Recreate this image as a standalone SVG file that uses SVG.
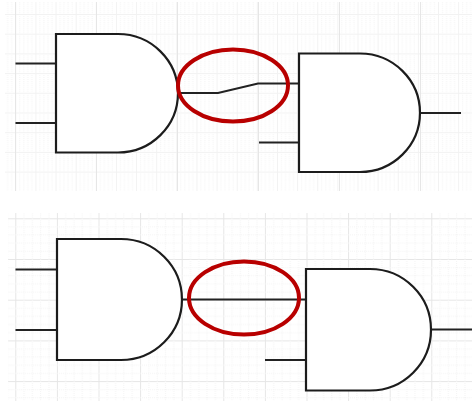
<svg xmlns="http://www.w3.org/2000/svg" width="472" height="401" viewBox="0 0 472 401">
<style>
.maj{stroke:#e6e6e6;stroke-width:1;fill:none}
.min{stroke:#f2f2f2;stroke-width:1;fill:none}
.dot{stroke:#f3f3f3;stroke-width:1;stroke-dasharray:1 1;fill:none}
.gate{fill:#fff;stroke:#1c1c1c;stroke-width:2.2}
.wire{fill:none;stroke:#222;stroke-width:2.2}
.mark{fill:none;stroke:#b80000;stroke-width:4}
</style>
<defs>
<pattern id="pa" x="15.3" y="14" width="20.13" height="19.7" patternUnits="userSpaceOnUse">
<path class="min" d="M0.5 0V19.7M0 0.5H20.13"/>
<path class="dot" d="M4.5 0V19.7M8.5 0V19.7M12.5 0V19.7M16.5 0V19.7"/>
</pattern>
<pattern id="pb" x="15.3" y="218.3" width="41.6" height="40.7" patternUnits="userSpaceOnUse">
<path class="maj" d="M0.5 0V40.7M0 0.5H41.6"/>
<path class="dot" d="M8.8 0V40.7M17.1 0V40.7M25.4 0V40.7M33.7 0V40.7M0 8.6H41.6M0 16.7H41.6M0 24.8H41.6M0 32.9H41.6"/>
</pattern>
</defs>
<g id="grid-top">
<rect x="5" y="2" width="467" height="189" fill="url(#pa)"/>
<path class="maj" d="M15.5 2V191M96.5 2V191M177.5 2V191M258.5 2V191M339.5 2V191M420.5 2V191"/>
</g>
<g id="grid-bottom">
<rect x="8" y="213" width="464" height="188" fill="url(#pb)"/>
</g>
<g id="connectors">
<path class="wire" d="M15.5 63.5H56M15.5 123H56M178 93H218L258 83.5H299M259 142.5H299M420 113H461"/>
<path class="wire" d="M15.5 269.5H57M15.5 330H57M182 299.5H306M265 360H306M431 329.5H472"/>
</g>
<g id="gate-a1"><path class="gate" d="M56 34H118A60 59.25 0 0 1 118 152.5H56Z"/></g>
<g id="gate-a2"><path class="gate" d="M299 53.5H360A60 59.25 0 0 1 360 172H299Z"/></g>
<g id="gate-b1"><path class="gate" d="M57 239H121A61 60.5 0 0 1 121 360H57Z"/></g>
<g id="gate-b2"><path class="gate" d="M306 269H370A61 60.75 0 0 1 370 390.5H306Z"/></g>
<g id="mark-a"><ellipse class="mark" cx="233" cy="85.5" rx="55" ry="36"/></g>
<g id="mark-b"><ellipse class="mark" cx="244" cy="298" rx="55" ry="36.5"/></g>
</svg>
